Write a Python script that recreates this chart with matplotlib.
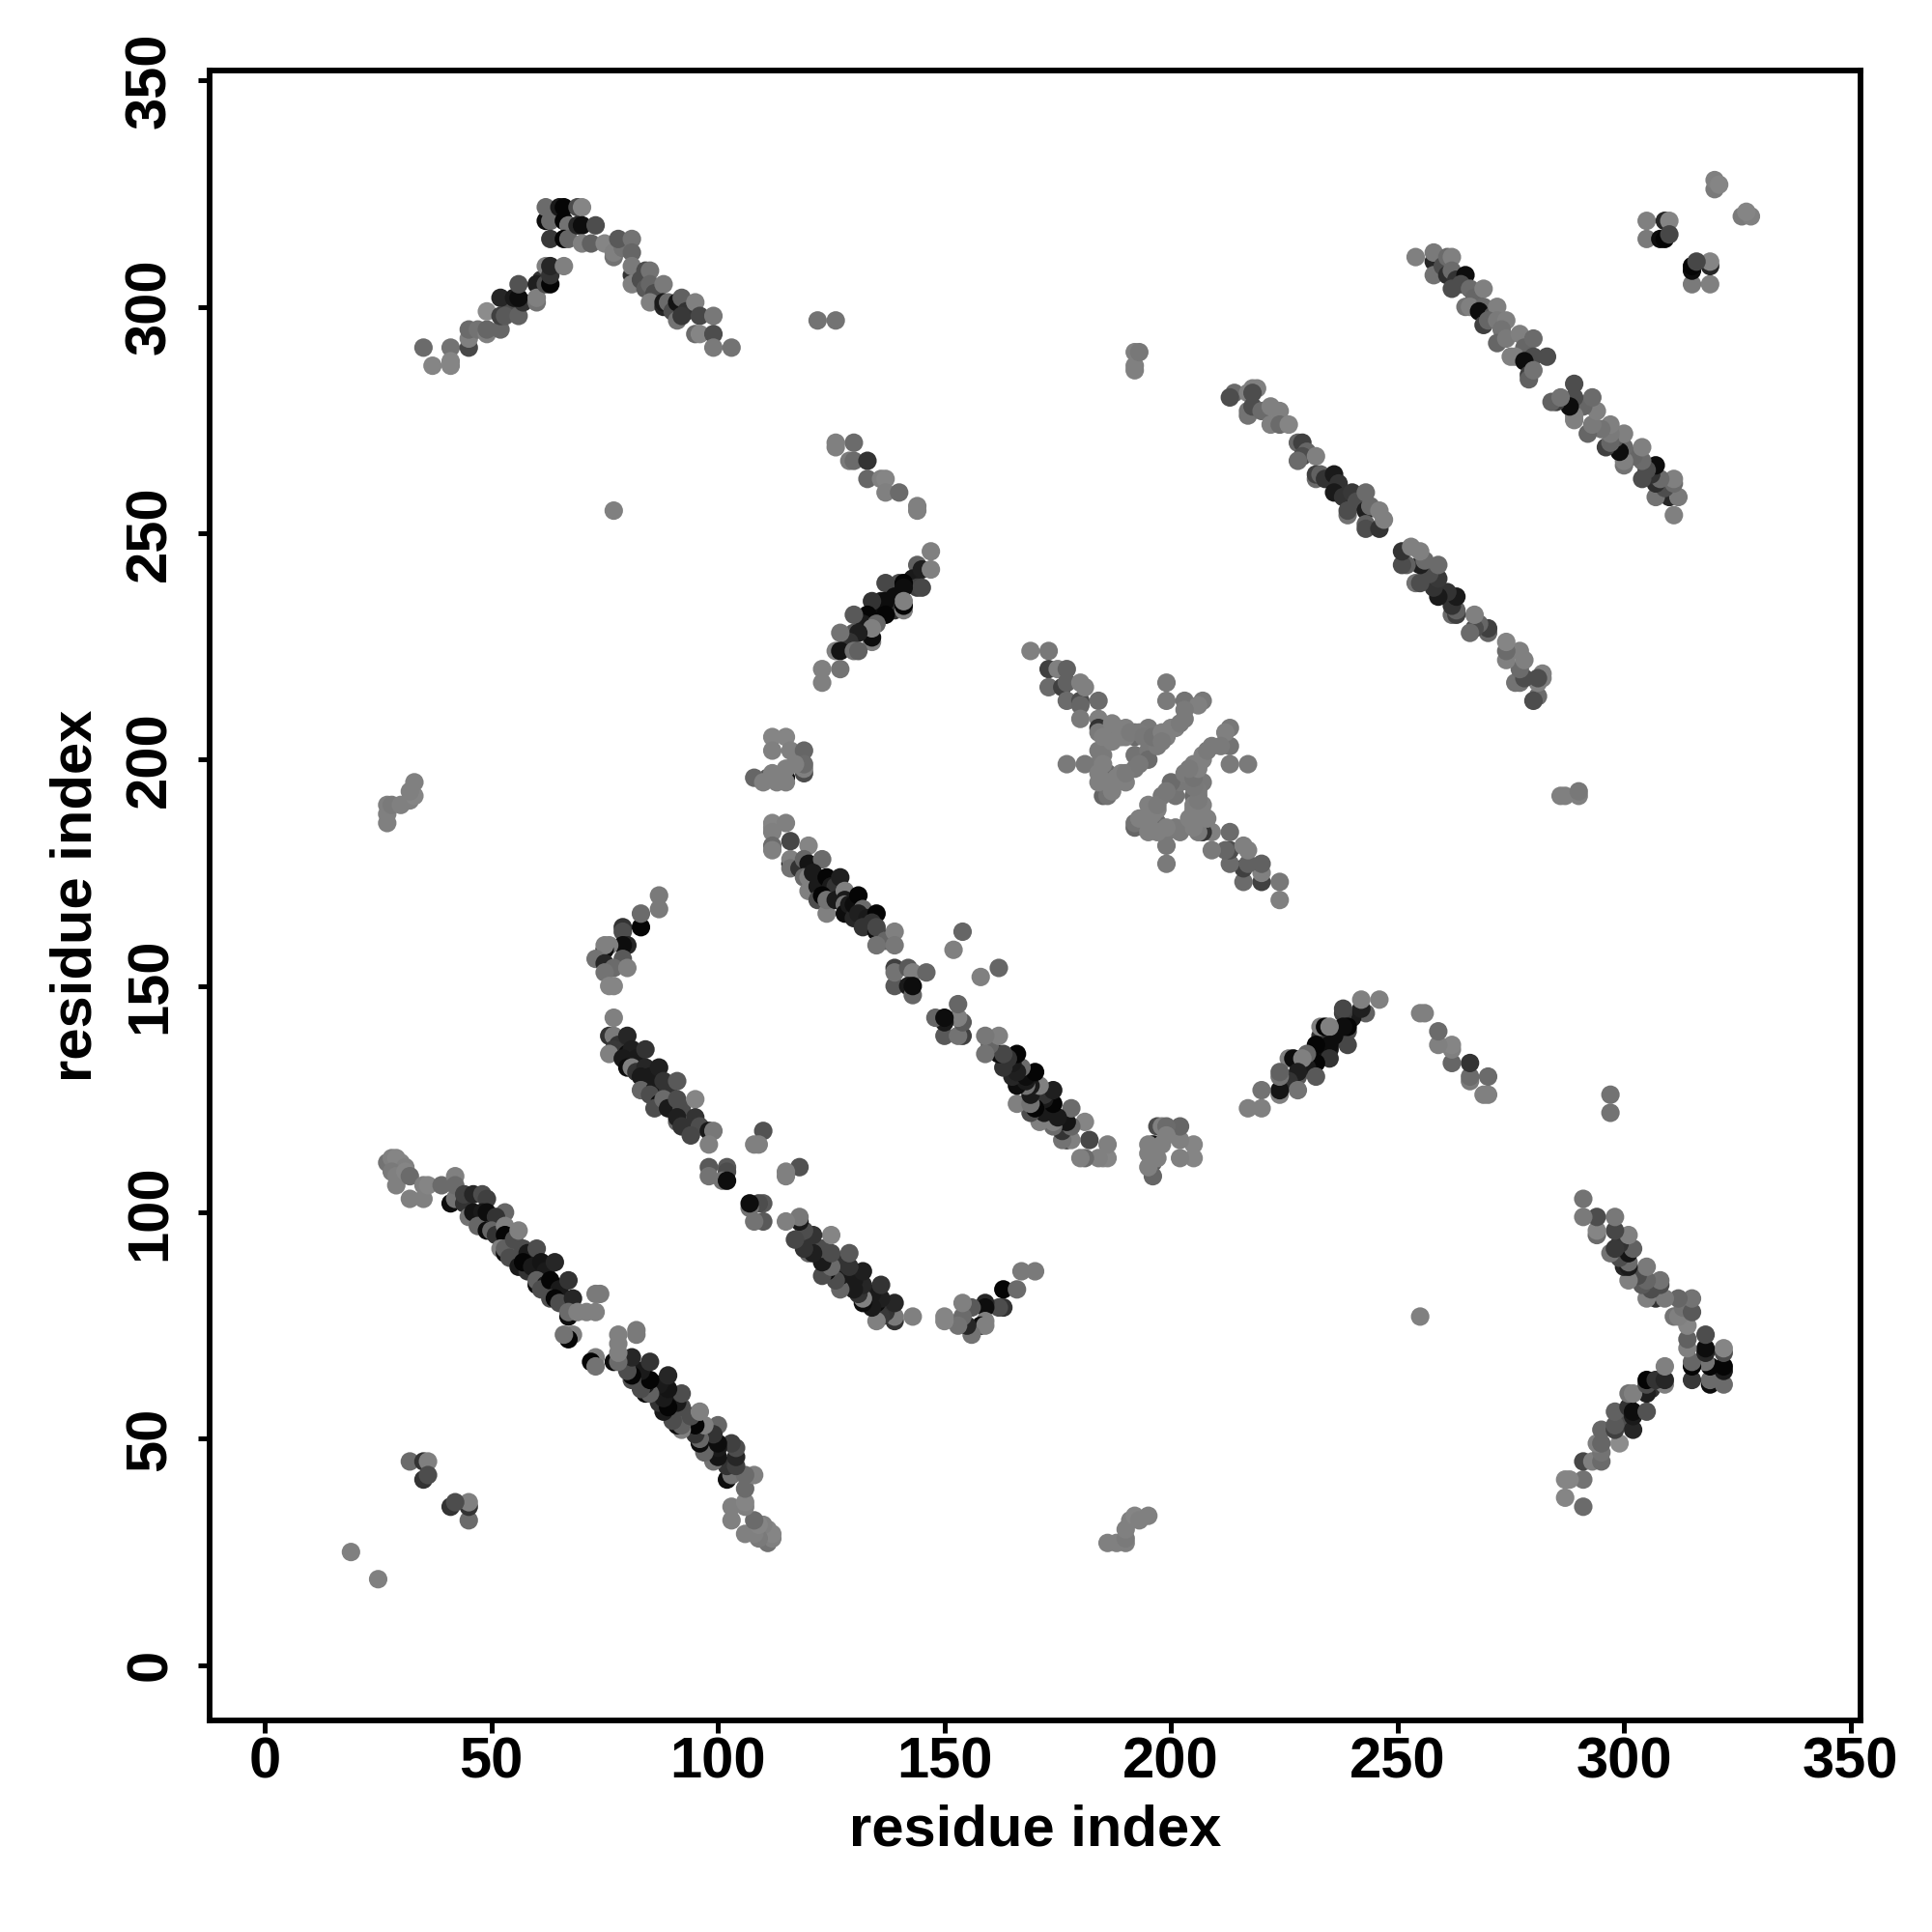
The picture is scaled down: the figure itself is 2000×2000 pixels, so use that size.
import matplotlib
matplotlib.use("Agg")
import matplotlib.pyplot as plt

# contacts as (residue i, residue j, grey level), only i < j is listed, the map is symmetric
chevron = [(35,291,.42),(37,287,.52),(41,291,.45),(41,288,.52),(41,287,.52),(45,291,.28),(45,293,.5),(45,295,.42),(47,295,.45),
           (49,294,.5),(49,295,.4),(52,295,.4),(49,299,.55),(54,300,.3),(52,302,.15),(52,298,.25),(53,298,.35),(56,298,.38),
           (57,301,.2),(55,302,.1),(56,302,.05),(56,305,.32),(61,306,.2),(60,305,.12),(60,301,.45),(60,302,.5),(62,305,.3),(63,305,.02),
           (62,309,.5),(63,307,.2),(63,309,.15),(66,309,.5),(62,319,.05),(63,319,.42),(62,322,.42),(63,315,.22),
           (65,322,.1),(66,322,.02),(69,322,.3),(70,322,.52),(66,319,.02),(67,318,.45),(66,315,.02),(67,315,.4),
           (69,318,.15),(70,318,.05),(73,318,.3),(70,314,.5),(72,314,.38),(75,314,.52),(77,311,.45),(77,312,.5),(79,313,.45),
           (78,315,.35),(81,315,.45),(81,312,.4),(81,307,.2),(81,309,.48),(81,305,.5),(83,306,.3),(84,308,.3),(85,308,.45),
           (84,304,.35),(85,305,.4),(86,303,.3),(85,301,.5),(88,305,.48),(88,300,.15),(88,301,.1),(89,301,.42),(90,299,.3),(91,301,.08),
           (92,302,.38),(91,297,.45),(93,299,.2),(92,298,.22),(95,301,.5),(96,298,.28),(95,294,.42),(96,294,.52),(99,298,.47),
           (99,294,.3),(99,291,.48),(103,291,.45)]
short_upper = [(126,270,.5),(126,269,.5),(130,270,.42),(129,266,.48),(130,266,.42),(133,266,.2),(133,262,.4),
               (136,262,.5),(137,262,.52),(137,259,.5),(140,259,.42),(144,256,.5),(144,255,.5)]
short_lower = [(147,246,.5),(144,243,.38),(143,240,.1),(145,242,.12),(147,242,.5),(144,238,.25),(145,238,.28),(140,239,.3),
               (137,239,.28),(139,236,.05),(141,239,.02),(141,238,.05),(139,233,.2),(141,233,.5),(141,234,.02),(141,235,.5),(136,235,.1),
               (137,235,.05),(135,233,.05),(134,235,.2),(137,232,.02),(133,232,.02),(132,230,.1),(135,230,.4),(134,226,.5),(134,227,.05),(134,229,.5),
               (130,232,.35),(130,228,.35),(131,228,.12),(129,226,.2),(127,228,.45),(126,224,.5),(127,224,.08),(130,224,.45),
               (131,224,.38),(127,220,.45),(123,220,.5),(123,217,.5)]
patch_a = [(112,205,.52),(115,205,.52),(112,202,.5),(116,202,.5),(119,202,.4),(119,197,.3),(119,198,.5),(119,199,.42),
           (115,196,.05),(115,198,.5),(115,195,.5),(111,196,.35),(112,197,.5),(108,196,.4),(110,195,.5),(113,195,.5),
           (117,199,.5)]
blob = [(169,224,.5),(173,224,.47),(173,220,.25),(175,220,.5),(177,220,.38),(173,216,.42),(176,216,.25),(177,217,.38),
        (177,213,.42),(180,213,.3),(180,212,.4),(180,217,.5),(181,216,.5),(184,213,.42),(180,209,.48),(184,209,.5),
        (184,207,.2),(186,206,.2),(184,206,.48),(187,208,.5),(188,207,.5),(186,204,.45),(192,206,.45),(192,205,.42),
        (195,207,.47),(190,205,.5),(197,204,.42),(199,205,.5),(201,207,.5),(203,209,.48),(199,213,.48),(199,217,.48),
        (203,213,.45),(207,213,.47),(206,212,.5),(184,202,.48),(184,199,.48),(177,199,.48),(181,199,.47),(192,201,.45),
        (192,198,.47),(195,202,.47),(195,200,.42),(197,203,.48),(186,197,.42),(188,196,.5),(190,195,.5),(185,192,.4),
        (186,192,.45),(187,193,.5),(184,197,.5),(189,205,.5),(190,207,.5),(191,206,.48),(193,206,.48),(194,205,.47),
        (196,205,.45),(198,206,.5),(200,207,.5),(202,208,.48),(185,205,.5),(185,201,.48),(187,204,.5),(198,204,.48),
        (189,197,.5),(190,197,.48),(193,199,.47),(185,199,.5),(184,195,.5),(186,195,.5),(203,211,.48)]
line_b = [(112,186,.52),(112,185,.52),(115,186,.5),(112,184,.5),(112,181,.42),(112,180,.5),(116,182,.28),(120,181,.52),
          (116,177,.05),(116,178,.5),(116,176,.45),(118,176,.2),(119,178,.4),(120,177,.08),(123,178,.42),(119,174,.42),(120,174,.5),
          (120,171,.5),(121,175,.1),(122,172,.1),(122,169,.3),(124,174,.02),(125,172,.1),(126,172,.2),(127,174,.12),(123,170,.02),(124,166,.5),(124,169,.45),
          (126,169,.1),(128,171,.5),(128,169,.1),(128,168,.45),(128,166,.05),(129,168,.1),(130,165,.15),(130,168,.05),(131,170,.02),(132,167,.42),(131,166,.12),
          (133,165,.1),(135,166,.02),(134,164,.2),(132,163,.2),(135,162,.05),(135,163,.28),(137,160,.4),(139,162,.5),(135,159,.45),(139,159,.47),(139,154,.25),
          (139,150,.35),(139,153,.45),(142,154,.35),(143,153,.5),(146,153,.4),(142,150,.1),(143,148,.4),(143,150,.05),(154,162,.4),(152,158,.5)]
hook = [(83,163,.02),(79,163,.2),(79,162,.3),(80,159,.15),(79,159,.05),(76,159,.5),(75,158,.05),(75,159,.5),(73,156,.45),
        (75,155,.15),(79,156,.35),(77,154,.42),(80,154,.5),(75,153,.45),(77,150,.52),(76,150,.52),(83,166,.42),(87,167,.48),
        (87,170,.48)]
line_c = [(77,143,.5),(76,139,.2),(77,139,.48),(78,137,.2),(77,136,.22),(76,135,.5),(80,139,.15),(80,135,.05),(81,136,.12),(79,134,.1),(82,134,.1),(84,136,.2),
          (80,132,.05),(81,132,.5),(82,131,.2),(84,132,.15),(83,130,.1),(85,130,.1),(87,132,.12),(84,128,.1),(83,127,.4),(86,127,.1),(85,126,.3),(88,129,.2),(89,127,.2),
          (87,124,.05),(86,123,.3),(88,125,.42),(89,123,.1),(91,129,.35),(91,125,.3),(92,123,.3),(91,120,.4),(91,121,.12),(92,119,.2),(95,125,.52),(95,121,.2),(96,119,.3),
          (94,117,.28),(98,118,.1),(99,118,.47),(98,115,.5),(110,118,.32),(109,115,.5),(108,115,.5),(98,110,.35),(98,108,.45),(102,110,.35),(102,109,.3),
          (101,107,.45),(102,107,.05)]
line_long = [(27,111,.45),(28,112,.5),(29,112,.52),(30,111,.52),(31,110,.5),(28,109,.48),(29,106,.5),(29,108,.5),(31,109,.52),
             (32,108,.42),(32,103,.5),(35,103,.5),(35,106,.5),(36,106,.52),(39,106,.42),(42,108,.5),(41,102,.05),(42,103,.45),
             (42,106,.42),(44,102,.2),(44,104,.25),(46,104,.15),(48,104,.3),(49,103,.25),(45,99,.45),(46,100,.08),(48,100,.1),(47,97,.4),(49,100,.05),(53,100,.4),(51,99,.2),(49,96,.05),(50,96,.4),
             (51,95,.2),(53,97,.5),(53,95,.02),(52,92,.5),(53,91,.05),(53,92,.38),(55,94,.3),(56,96,.5),(57,92,.3),(54,90,.3),(58,91,.1),(60,92,.3),(56,88,.1),(58,87,.2),(57,89,.02),
             (59,88,.1),(61,89,.08),(62,87,.1),(64,89,.15),(60,84,.05),(60,85,.38),(62,84,.1),(61,83,.3),(63,85,.02),(65,83,.1),(67,85,.2),(63,81,.3),(64,81,.02),(65,80,.3),(68,81,.15),
             (67,77,.05),(67,78,.42),(74,82,.48),(73,82,.48),(73,78,.5),(71,78,.5),(69,78,.5),(68,73,.5),(67,72,.02),(66,73,.45)]
line_f = [(214,281,.42),(213,280,.3),(217,281,.5),(218,282,.5),(219,282,.5),(218,281,.3),(217,277,.45),(217,276,.45),(218,278,.3),
          (220,277,.42),(222,278,.5),(224,277,.5),(222,274,.5),(224,274,.42),(226,274,.52),(228,270,.4),(229,270,.25),(230,268,.4),(229,267,.3),
          (228,266,.42),(232,267,.5),(232,262,.42),(232,263,.25),(233,263,.38),(234,262,.2),(236,263,.1),(237,261,.2),(236,259,.1),(238,258,.2),(240,259,.22),(241,257,.3),(243,259,.42),
          (239,254,.45),(239,255,.3),(243,255,.12),(244,256,.42),(243,252,.38),(243,251,.3),(246,251,.2),(246,255,.5),(247,253,.5)]
line_g = [(254,311,.5),(258,310,.15),(258,312,.48),(258,307,.45),(260,309,.3),(261,311,.42),(262,311,.5),(261,307,.18),(262,308,.42),(263,306,.2),(265,307,.05),
          (262,304,.3),(264,305,.3),(266,304,.42),(267,302,.4),(269,304,.5),(265,300,.45),(266,300,.5),(269,300,.42),(268,299,.05),(271,298,.35),(272,300,.5),(269,296,.25),
          (270,297,.4),(272,297,.48),(274,297,.5),(273,295,.45),(272,292,.4),(274,293,.48),(277,294,.5),(278,291,.4),(280,293,.42),(275,289,.5),(276,289,.5),
          (280,289,.3),(283,289,.3),(278,288,.05),(279,285,.25),(279,284,.38),(280,286,.45)]
corner = [(305,319,.5),(305,315,.48),(309,319,.15),(310,319,.52),(308,315,.05),(309,315,.02),(310,316,.28),(320,326,.48),(320,328,.5),(321,327,.52)]
others = [(19,25,.5),(27,186,.5),(27,188,.5),(27,190,.5),(28,190,.48),(30,190,.5),(32,191,.5),(33,192,.52),(32,193,.5),(33,195,.5),
          (32,45,.42),(35,45,.2),(36,45,.5),(35,41,.2),(36,42,.3),(122,297,.45),(126,297,.45),(77,255,.5),
          (192,286,.5),(192,287,.5),(192,290,.5),(193,290,.47)]

groups = [chevron, short_upper, short_lower, patch_a, blob, line_b, hook, line_c, line_long, line_f, line_g, corner, others]

xticks = [0, 50, 100, 150, 200, 250, 300, 350]
yticks = [0, 50, 100, 150, 200, 250, 300, 350]

plt.rcParams["font.family"] = ["Liberation Sans", "DejaVu Sans"]
plt.rcParams["font.weight"] = "bold"

fig = plt.figure(figsize=(20, 20), dpi=100)
ax = fig.add_axes([0.1085, 0.1095, 0.8545, 0.854])

res_i, res_j, greys = [], [], []
for g in groups:
    for i, j, c in g:
        res_i.append(i)
        res_j.append(j)
        greys.append(str(c))
# draw both halves of the map
ax.scatter(res_i, res_j, s=190, c=greys, linewidths=0, zorder=2)
ax.scatter(res_j, res_i, s=190, c=greys, linewidths=0, zorder=2)

ax.set_xlim(-12.2, 352.2)
ax.set_ylim(-12.2, 352.2)
ax.set_xticks(xticks)
ax.set_yticks(yticks)
ax.tick_params(axis="x", length=9, width=3.6, labelsize=43, pad=3)
ax.tick_params(axis="y", length=9, width=3.6, labelsize=43, pad=15)
plt.setp(ax.get_yticklabels(), rotation=90, va="center")
for s in ax.spines.values():
    s.set_linewidth(4.2)
ax.set_xlabel("residue index", fontsize=43, fontweight="bold", labelpad=11)
ax.set_ylabel("residue index", fontsize=43, fontweight="bold", labelpad=16)

fig.savefig("out.png", dpi=100)
